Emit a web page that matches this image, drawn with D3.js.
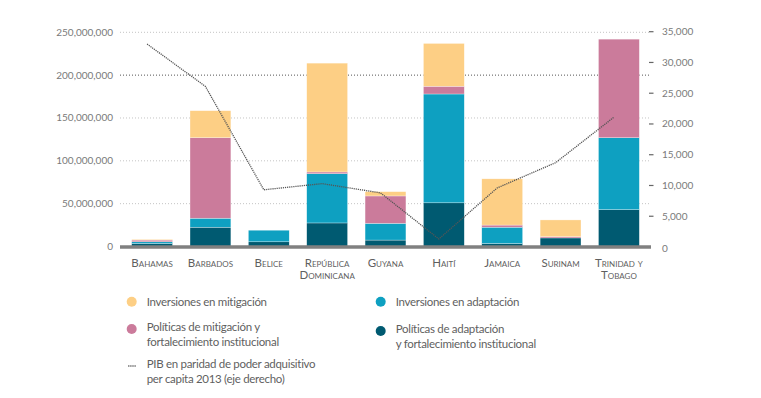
<!DOCTYPE html>
<html>
<head>
<meta charset="utf-8">
<script src="https://cdn.jsdelivr.net/npm/d3@7"></script>
<style>
  body { margin: 0; background: #fff; }
  svg { display: block; font-family: Lato, sans-serif; }
  .tick-l, .tick-r { font-size: 10px; fill: #7a7a7a; }
  .cat { font-size: 11.5px; fill: #5f5f5f; font-variant: small-caps; }
  .leg { font-size: 11.5px; fill: #5f5f5f; letter-spacing: -0.3px; }
</style>
</head>
<body>
<svg id="vis" width="761" height="398"></svg>
<script>
/**
 * Chart data
 */
const CATEGORIES = ["Bahamas", "Barbados", "Belice", "República\nDominicana", "Guyana", "Haití", "Jamaica", "Surinam", "Trinidad y\nTobago"];
// millions of dollars, stacked bottom to top
const POL_ADAPTACION = [3.5, 22.5, 5.5, 27.5, 7.5, 51, 3.5, 10, 43];
const INV_ADAPTACION = [2, 10.5, 13.5, 57.5, 19.5, 127, 19, 0, 84];
const POL_MITIGACION = [2, 94, 0, 2, 32, 9, 2.5, 1.5, 115];
const INV_MITIGACION = [0.8, 31.5, 0, 127, 5, 50, 54, 19.5, 0];
// PIB PPA per capita 2013 (right axis)
const PIB = [33000, 26100, 9300, 10300, 8800, 1300, 9600, 13700, 21100];
const LEFT_TICKS = [0, 50e6, 100e6, 150e6, 200e6, 250e6];
const RIGHT_TICKS = [0, 5000, 10000, 15000, 20000, 25000, 30000, 35000];

const KEYS = ["polAd", "invAd", "polMi", "invMi"];
const COLOURS = {polAd: "#005a71", invAd: "#0ea0c1", polMi: "#cb7b9b", invMi: "#fdcf85"};
const LEGEND = [
    {key: "invMi", text: ["Inversiones en mitigación"]},
    {key: "invAd", text: ["Inversiones en adaptación"]},
    {key: "polMi", text: ["Políticas de mitigación y", "fortalecimiento institucional"]},
    {key: "polAd", text: ["Políticas de adaptación", "y fortalecimiento institucional"]},
    {key: "pib", text: ["PIB en paridad de poder adquisitivo", "per capita 2013 (eje derecho)"]}
];

const PLOT = {left: 120, right: 651, top: 32.3, bottom: 246.5};

window.onload = function () {
    const svg = d3.select("#vis");

    const data = CATEGORIES.map((c, i) => ({
        name: c,
        polAd: POL_ADAPTACION[i] * 1e6,
        invAd: INV_ADAPTACION[i] * 1e6,
        polMi: POL_MITIGACION[i] * 1e6,
        invMi: INV_MITIGACION[i] * 1e6,
        pib: PIB[i]
    }));

    const x = d3.scaleBand().domain(CATEGORIES)
        .range([PLOT.left, PLOT.right]).paddingInner(0.3).paddingOuter(0.2);
    const yL = d3.scaleLinear().domain([0, 250e6]).range([PLOT.bottom, PLOT.top]);
    const yR = d3.scaleLinear().domain([0, 35000]).range([247, 31.7]);

    // grid lines
    svg.append("g").selectAll("line")
        .data(LEFT_TICKS.filter(d => d > 0))
        .enter().append("line")
        .attr("x1", PLOT.left).attr("x2", PLOT.right)
        .attr("y1", d => yL(d)).attr("y2", d => yL(d))
        .attr("stroke", d => d === 200e6 ? "#555" : "#c4c4c4")
        .attr("stroke-width", 1)
        .attr("stroke-dasharray", "1,2");

    // left axis labels
    svg.append("g").selectAll("text")
        .data(LEFT_TICKS)
        .enter().append("text")
        .attr("class", "tick-l")
        .attr("x", 113).attr("y", d => yL(d))
        .attr("dy", "0.35em")
        .attr("text-anchor", "end")
        .text(d => d3.format(",")(d));

    // right axis
    const right = svg.append("g");
    right.selectAll("line")
        .data(RIGHT_TICKS.filter(d => d > 0))
        .enter().append("line")
        .attr("x1", 649).attr("x2", 653.5)
        .attr("y1", d => yR(d)).attr("y2", d => yR(d))
        .attr("stroke", "#666").attr("stroke-width", 1.2);
    right.selectAll("text")
        .data(RIGHT_TICKS)
        .enter().append("text")
        .attr("class", "tick-r")
        .attr("x", 662).attr("y", d => yR(d) + (d === 0 ? 1.5 : 0))
        .attr("dy", "0.35em")
        .text(d => d3.format(",")(d));

    // stacked bars
    const series = d3.stack().keys(KEYS)(data);
    svg.append("g").selectAll("g")
        .data(series)
        .enter().append("g")
        .attr("fill", d => COLOURS[d.key])
        .selectAll("rect")
        .data(d => d.filter(p => p[1] - p[0] > 0))
        .enter().append("rect")
        .attr("x", d => x(d.data.name))
        .attr("width", x.bandwidth())
        .attr("y", d => yL(d[1]))
        .attr("height", d => yL(d[0]) - yL(d[1]))
        .attr("stroke", "#fff")
        .attr("stroke-opacity", 0.6)
        .attr("stroke-width", 0.5);

    // baseline
    svg.append("line")
        .attr("x1", PLOT.left).attr("x2", PLOT.right)
        .attr("y1", yL(0) + 0.5).attr("y2", yL(0) + 0.5)
        .attr("stroke", "#808080").attr("stroke-width", 3.5);

    // PIB line
    const line = d3.line()
        .x(d => x(d.name) + x.bandwidth() / 2 - 5)
        .y(d => yR(d.pib));
    svg.append("path")
        .datum(data)
        .attr("d", line)
        .attr("fill", "none")
        .attr("stroke", "#555")
        .attr("stroke-width", 1.3)
        .attr("stroke-dasharray", "1.2,0.9");

    // category labels
    const cats = svg.append("g").selectAll("text")
        .data(CATEGORIES)
        .enter().append("text")
        .attr("class", "cat")
        .attr("text-anchor", "middle")
        .attr("x", d => x(d) + x.bandwidth() / 2)
        .attr("y", 267);
    cats.selectAll("tspan")
        .data(d => d.split("\n"))
        .enter().append("tspan")
        .attr("x", function () { return d3.select(this.parentNode).attr("x"); })
        .attr("dy", (d, i) => i === 0 ? 0 : 11.5)
        .text(d => d);

    // legend
    const legPos = [
        {x: 131.7, y: 301.7}, {x: 380.7, y: 301.7},
        {x: 131.7, y: 329}, {x: 380.7, y: 331},
        {x: 131.7, y: 366}
    ];
    const leg = svg.append("g").selectAll("g")
        .data(LEGEND)
        .enter().append("g")
        .attr("transform", (d, i) => `translate(${legPos[i].x},${legPos[i].y})`);
    leg.filter(d => d.key !== "pib").append("circle")
        .attr("r", 5)
        .attr("fill", d => COLOURS[d.key]);
    leg.filter(d => d.key === "pib").append("line")
        .attr("x1", -3.5).attr("x2", 4).attr("y1", 0).attr("y2", 0)
        .attr("stroke", "#555").attr("stroke-width", 1.3)
        .attr("stroke-dasharray", "1.2,0.9");
    leg.append("text")
        .attr("class", "leg")
        .attr("x", 15)
        .attr("y", d => d.text.length > 1 ? -2 : 0)
        .selectAll("tspan")
        .data(d => d.text)
        .enter().append("tspan")
        .attr("x", 15)
        .attr("dy", (d, i) => i === 0 ? "0.35em" : 15)
        .text(d => d);
};
</script>
</body>
</html>
